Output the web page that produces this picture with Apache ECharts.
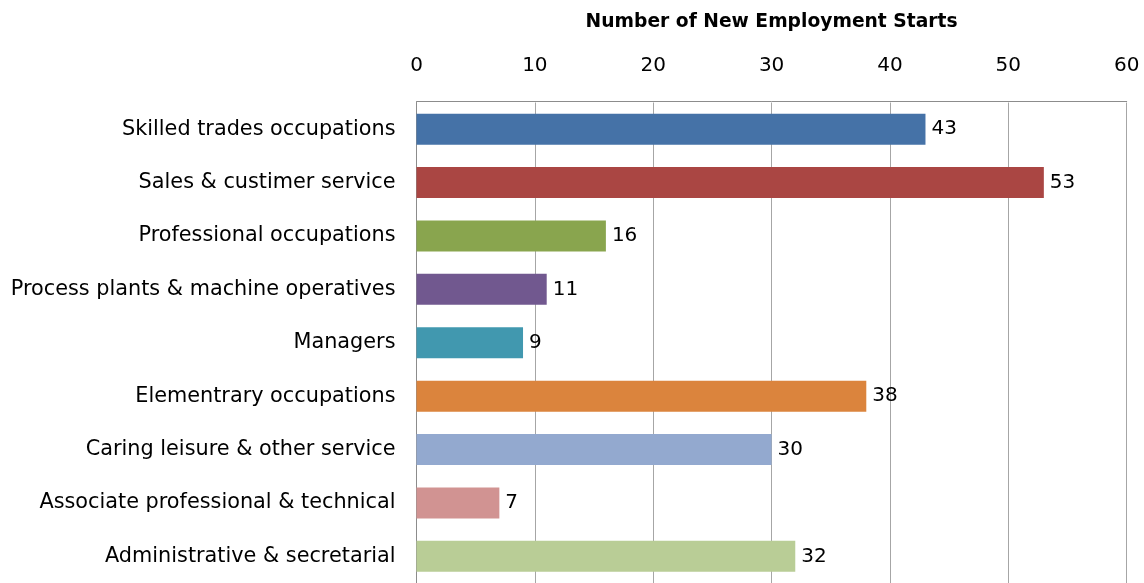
<!DOCTYPE html>
<html>
<head>
<meta charset="utf-8">
<script src="https://cdn.jsdelivr.net/npm/echarts@6/dist/echarts.min.js"></script>
<style>
  html, body { margin: 0; padding: 0; background: #fff; }
  #chart { width: 1144px; height: 583px; }
</style>
</head>
<body>
<div id="chart"></div>
<script>
// Occupation groups, top to bottom
const categories = [
  'Skilled trades occupations',
  'Sales & custimer service',
  'Professional occupations',
  'Process plants & machine operatives',
  'Managers',
  'Elementrary occupations',
  'Caring leisure & other service',
  'Associate professional & technical',
  'Administrative & secretarial'
];
// New employment starts per group
const starts = [43, 53, 16, 11, 9, 38, 30, 7, 32];
// One colour per bar
const barColors = ['#4572A7', '#AA4643', '#89A54E', '#71588F', '#4198AF', '#DB843D', '#93A9CF', '#D19392', '#B9CD96'];
// Value axis ticks
const axisMin = 0, axisMax = 60, axisStep = 10;

const FONT = '"DejaVu Sans", "Open Sans", sans-serif';
const chart = echarts.init(document.getElementById('chart'), null, { renderer: 'canvas' });

chart.setOption({
  animation: false,
  backgroundColor: '#fff',
  grid: { left: 416.5, right: 17.3, top: 102.5, height: 486, containLabel: false },
  xAxis: {
    type: 'value',
    position: 'top',
    offset: 1.5,
    min: axisMin,
    max: axisMax,
    interval: axisStep,
    name: 'Number of New Employment Starts',
    nameLocation: 'middle',
    nameGap: 69,
    nameTextStyle: { fontFamily: FONT, fontWeight: 'bold', fontSize: 18.7, color: '#000' },
    axisLine: { show: true, lineStyle: { color: '#8C8C8C', width: 1 } },
    axisTick: { show: false },
    axisLabel: { fontFamily: FONT, fontSize: 20, color: '#000', margin: 25 },
    splitLine: { show: true, lineStyle: { color: '#A6A6A6', width: 1 } }
  },
  yAxis: {
    type: 'category',
    data: categories,
    inverse: true,
    axisLine: { show: true, lineStyle: { color: '#8C8C8C', width: 1 } },
    axisTick: { show: false },
    axisLabel: { fontFamily: FONT, fontSize: 20.8, color: '#000', margin: 21 },
    splitLine: { show: false }
  },
  series: [{
    type: 'bar',
    data: starts.map((v, i) => ({ value: v, itemStyle: { color: barColors[i] } })),
    barWidth: 31,
    label: {
      show: true,
      position: 'right',
      distance: 6,
      fontFamily: FONT,
      fontSize: 20,
      color: '#000'
    }
  }]
});
</script>
</body>
</html>
